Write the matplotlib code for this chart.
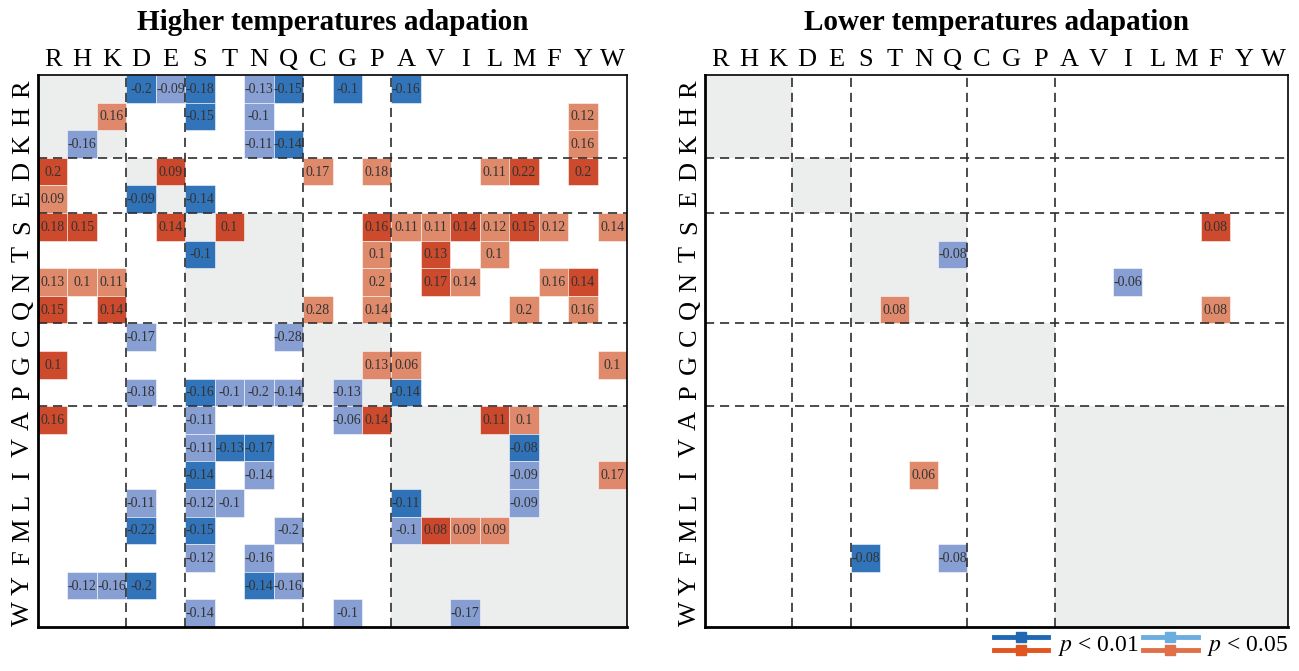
import matplotlib
matplotlib.use("Agg")
import matplotlib.pyplot as plt
from matplotlib.patches import Rectangle
from matplotlib.lines import Line2D
from matplotlib.legend_handler import HandlerBase

# amino acid order and the property groups (diagonal blocks)
amino = ["R", "H", "K", "D", "E", "S", "T", "N", "Q", "C",
         "G", "P", "A", "V", "I", "L", "M", "F", "Y", "W"]
group_sizes = [3, 2, 4, 3, 8]

# (row, column, value, level) level 1 -> p < 0.01, level 2 -> p < 0.05
higher_cells = [
    ("R", "D", -0.2, 1), ("R", "E", -0.09, 2), ("R", "S", -0.18, 1), ("R", "N", -0.13, 2),
    ("R", "Q", -0.15, 1), ("R", "G", -0.1, 1), ("R", "A", -0.16, 1),
    ("H", "K", 0.16, 2), ("H", "S", -0.15, 1), ("H", "N", -0.1, 2), ("H", "Y", 0.12, 2),
    ("K", "H", -0.16, 2), ("K", "N", -0.11, 2), ("K", "Q", -0.14, 1), ("K", "Y", 0.16, 2),
    ("D", "R", 0.2, 1), ("D", "E", 0.09, 1), ("D", "C", 0.17, 2), ("D", "P", 0.18, 2),
    ("D", "L", 0.11, 2), ("D", "M", 0.22, 1), ("D", "Y", 0.2, 1),
    ("E", "R", 0.09, 2), ("E", "D", -0.09, 1), ("E", "S", -0.14, 1),
    ("S", "R", 0.18, 1), ("S", "H", 0.15, 1), ("S", "E", 0.14, 1), ("S", "T", 0.1, 1),
    ("S", "P", 0.16, 1), ("S", "A", 0.11, 2), ("S", "V", 0.11, 2), ("S", "I", 0.14, 1),
    ("S", "L", 0.12, 2), ("S", "M", 0.15, 1), ("S", "F", 0.12, 2), ("S", "W", 0.14, 2),
    ("T", "S", -0.1, 1), ("T", "P", 0.1, 2), ("T", "V", 0.13, 1), ("T", "L", 0.1, 2),
    ("N", "R", 0.13, 2), ("N", "H", 0.1, 2), ("N", "K", 0.11, 2), ("N", "P", 0.2, 2),
    ("N", "V", 0.17, 1), ("N", "I", 0.14, 2), ("N", "F", 0.16, 2), ("N", "Y", 0.14, 1),
    ("Q", "R", 0.15, 1), ("Q", "K", 0.14, 1), ("Q", "C", 0.28, 2), ("Q", "P", 0.14, 2),
    ("Q", "M", 0.2, 2), ("Q", "Y", 0.16, 2),
    ("C", "D", -0.17, 2), ("C", "Q", -0.28, 2),
    ("G", "R", 0.1, 1), ("G", "P", 0.13, 2), ("G", "A", 0.06, 2), ("G", "W", 0.1, 2),
    ("P", "D", -0.18, 2), ("P", "S", -0.16, 1), ("P", "T", -0.1, 2), ("P", "N", -0.2, 2),
    ("P", "Q", -0.14, 2), ("P", "G", -0.13, 2), ("P", "A", -0.14, 1),
    ("A", "R", 0.16, 1), ("A", "S", -0.11, 2), ("A", "G", -0.06, 2), ("A", "P", 0.14, 1),
    ("A", "L", 0.11, 1), ("A", "M", 0.1, 2),
    ("V", "S", -0.11, 2), ("V", "T", -0.13, 1), ("V", "N", -0.17, 1), ("V", "M", -0.08, 1),
    ("I", "S", -0.14, 1), ("I", "N", -0.14, 2), ("I", "M", -0.09, 2), ("I", "W", 0.17, 2),
    ("L", "D", -0.11, 2), ("L", "S", -0.12, 2), ("L", "T", -0.1, 2), ("L", "A", -0.11, 1),
    ("L", "M", -0.09, 2),
    ("M", "D", -0.22, 1), ("M", "S", -0.15, 1), ("M", "Q", -0.2, 2), ("M", "A", -0.1, 2),
    ("M", "V", 0.08, 1), ("M", "I", 0.09, 2), ("M", "L", 0.09, 2),
    ("F", "S", -0.12, 2), ("F", "N", -0.16, 2),
    ("Y", "H", -0.12, 2), ("Y", "K", -0.16, 2), ("Y", "D", -0.2, 1), ("Y", "N", -0.14, 1),
    ("Y", "Q", -0.16, 2),
    ("W", "S", -0.14, 2), ("W", "G", -0.1, 2), ("W", "I", -0.17, 2),
]

lower_cells = [
    ("S", "F", 0.08, 1),
    ("T", "Q", -0.08, 2),
    ("N", "I", -0.06, 2),
    ("Q", "T", 0.08, 2), ("Q", "F", 0.08, 2),
    ("I", "N", 0.06, 2),
    ("F", "S", -0.08, 1), ("F", "Q", -0.08, 2),
]

titles = ["Higher temperatures adapation", "Lower temperatures adapation"]

dark_blue, light_blue = "#2068b3", "#7d97cf"
dark_red, light_red = "#c93a1b", "#de8060"
grey = "#eceeed"

plt.rcParams["font.family"] = ["Liberation Serif", "DejaVu Serif"]
plt.rcParams["mathtext.fontset"] = "stix"

fig = plt.figure(figsize=(12.99, 6.71), dpi=100)
ax1 = fig.add_axes([38 / 1299, 44 / 671, 589 / 1299, 552 / 671])
ax2 = fig.add_axes([705 / 1299, 44 / 671, 583 / 1299, 552 / 671])


def draw_panel(ax, cells, title):
    n = len(amino)
    # grey diagonal blocks
    start = 0
    bounds = []
    for g in group_sizes:
        ax.add_patch(Rectangle((start, start), g, g, fc=grey, ec="none", zorder=1))
        start += g
        bounds.append(start)

    for row, col, val, lev in cells:
        r, c = amino.index(row), amino.index(col)
        if val < 0:
            fc = dark_blue if lev == 1 else light_blue
        else:
            fc = dark_red if lev == 1 else light_red
        ax.add_patch(Rectangle((c, r), 1, 1, fc=fc, ec="white", lw=0.4,
                               alpha=0.92, zorder=2))
        ax.text(c + 0.5, r + 0.52, f"{val:g}", ha="center", va="center",
                fontsize=10, color="#333333", zorder=4)

    for b in bounds[:-1]:
        ax.axvline(b, color="#2e2e2e", lw=1.2, ls=(0, (5.5, 3.5)), zorder=3)
        ax.axhline(b, color="#2e2e2e", lw=1.2, ls=(0, (5.5, 3.5)), zorder=3)

    ax.set_xlim(0, n)
    ax.set_ylim(n, 0)
    ax.set_xticks([i + 0.5 for i in range(n)])
    ax.set_yticks([i + 0.5 for i in range(n)])
    ax.set_xticklabels(amino, fontsize=19)
    ax.set_yticklabels(amino, fontsize=19, rotation=90, va="center")
    ax.xaxis.tick_top()
    ax.tick_params(length=0, pad=3)
    for s in ax.spines.values():
        s.set_linewidth(1.2)
        s.set_zorder(5)
    ax.spines["left"].set_linewidth(2)
    ax.spines["bottom"].set_linewidth(2)
    ax.text(0.5, 1.096, title, transform=ax.transAxes, ha="center", va="center",
            fontsize=21, fontweight="bold")


draw_panel(ax1, higher_cells, titles[0])
draw_panel(ax2, lower_cells, titles[1])


class PairHandler(HandlerBase):
    def create_artists(self, legend, orig_handle, xdescent, ydescent, width,
                       height, fontsize, trans):
        top, bottom = orig_handle.colors
        arts = []
        for c, yy in ((top, height * 0.85 - ydescent), (bottom, height * 0.05 - ydescent)):
            arts.append(Line2D([-xdescent, width - xdescent], [yy, yy], color=c,
                               lw=3.5, transform=trans))
            arts.append(Line2D([width / 2 - xdescent], [yy], marker="s", ms=6.5,
                               color=c, transform=trans))
        return arts


class Pair:
    def __init__(self, colors):
        self.colors = colors


handles = [Pair((dark_blue, "#e05520")), Pair(("#6aaee0", "#e07048"))]
fig.legend(handles, ["$p$ < 0.01", "$p$ < 0.05"], handler_map={Pair: PairHandler()},
           loc="lower right", bbox_to_anchor=(1.008, -0.012), ncol=2, frameon=False,
           fontsize=17, handlelength=2.3, handletextpad=0.4, columnspacing=0.2)

fig.savefig("out.png", dpi=100)
